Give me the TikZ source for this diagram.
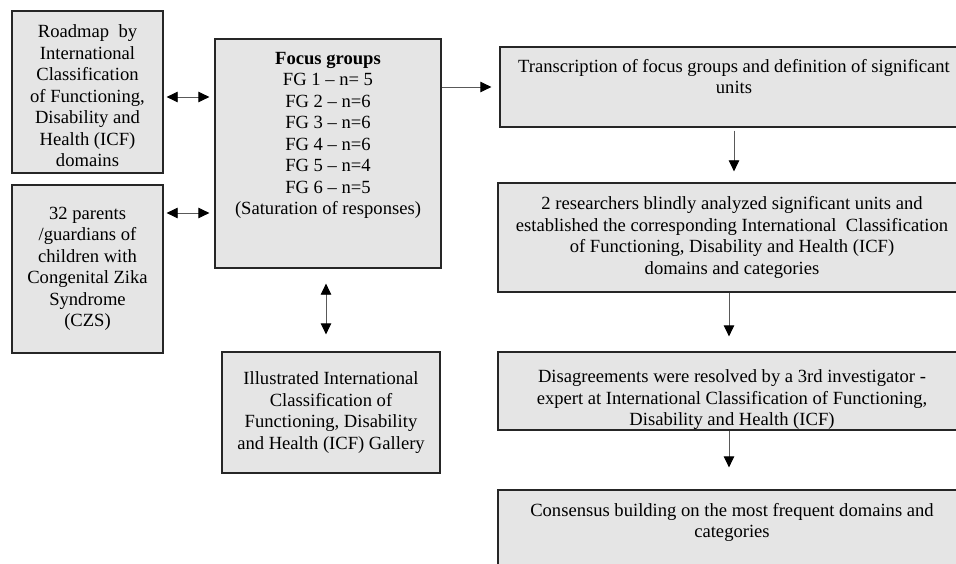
\documentclass[tikz,border=0pt]{standalone}
\usepackage{fontspec}
\setmainfont{Liberation Serif}
\usepackage{tikz}
\usepackage{xcolor}
\usetikzlibrary{arrows.meta}

\definecolor{boxgray}{RGB}{229,229,229}

\begin{document}
\begin{tikzpicture}[x=1pt, y=-1pt,
    box/.style = {draw=black!85, fill=boxgray, line width=1.3pt, inner sep=0pt,
        align=center, font=\fontsize{18.6}{21.5}\selectfont},
    link/.style = {draw=black!65, line width=0.8pt,
        -{Triangle[length=11pt, width=10.5pt, color=black]}},
    dbl/.style = {link,
        {Triangle[length=11pt, width=10.5pt, color=black]}-{Triangle[length=11pt, width=10.5pt, color=black]}}]

    \fill[white] (0,0) rectangle (956,564);
    \useasboundingbox (0,0) rectangle (956,564);
    \clip (0,0) rectangle (956,564);

    \node[box, minimum width=151, minimum height=162] (roadmap) at (87.5,92)
    {\mbox{}\\[-0.7pt] Roadmap\ \ by\\ International\\ Classification\\ of Functioning,\\ Disability and\\ Health (ICF)\\ domains};

    \node[box, minimum width=151, minimum height=168] (parents) at (87.5,269)
    {32 parents\\ /guardians of\\ children with\\ Congenital Zika\\ Syndrome\\ (CZS)};

    \node[box, minimum width=226, minimum height=229] (focus) at (328,153.5)
    {\textbf{Focus groups}\\ FG 1 -- n= 5\\ FG 2 -- n=6\\ FG 3 -- n=6\\ FG 4 -- n=6\\ FG 5 -- n=4\\ FG 6 -- n=5\\ (Saturation of responses)\\[19pt]\mbox{}};

    \node[box, minimum width=218, minimum height=121] (gallery) at (331,412.5)
    {Illustrated International\\ Classification of\\ Functioning, Disability\\ and Health (ICF) Gallery};

    \node[box, minimum width=468, minimum height=80] (transcr) at (734,87)
    {Transcription of focus groups and definition of significant\\ units\\ \mbox{}};

    \node[box, minimum width=468, minimum height=109] (analysis) at (732,237.5)
    {2 researchers blindly analyzed significant units and\\ established the corresponding International\ \ Classification\\ of Functioning, Disability and Health (ICF)\\ domains and categories};

    \node[box, minimum width=468, minimum height=78] (resolve) at (732,391)
    {Disagreements were resolved by a 3rd investigator -\\ expert at International Classification of Functioning,\\ Disability and Health (ICF)\\[-34.7pt]\mbox{}};

    \node[box, minimum width=468, minimum height=82] (consensus) at (732,531)
    {Consensus building on the most frequent domains and\\ categories\\[0pt]\mbox{}};

    \draw[dbl, shorten <=3pt, shorten >=5pt]
    ([yshift=-5pt]roadmap.east) -- ([yshift=-5pt]roadmap.east -| focus.west);
    \draw[dbl, shorten <=3pt, shorten >=5pt]
    ([yshift=56pt]parents.east) -- ([yshift=56pt]parents.east -| focus.west);
    \draw[dbl, shorten <=15pt, shorten >=17pt]
    ([xshift=-2pt]focus.south) -- ([xshift=-2pt]focus.south |- gallery.north);
    \draw[link, shorten >=8pt] (focus.east |- transcr.west) -- (transcr.west);

    \draw[link, shorten <=3pt, shorten >=11pt] (transcr.south) -- (transcr.south |- analysis.north);
    \draw[link, shorten >=15pt] ([xshift=-3pt]analysis.south) -- ([xshift=-3pt]analysis.south |- resolve.north);
    \draw[link, shorten >=22pt] ([xshift=-3pt]resolve.south) -- ([xshift=-3pt]resolve.south |- consensus.north);
\end{tikzpicture}
\end{document}
